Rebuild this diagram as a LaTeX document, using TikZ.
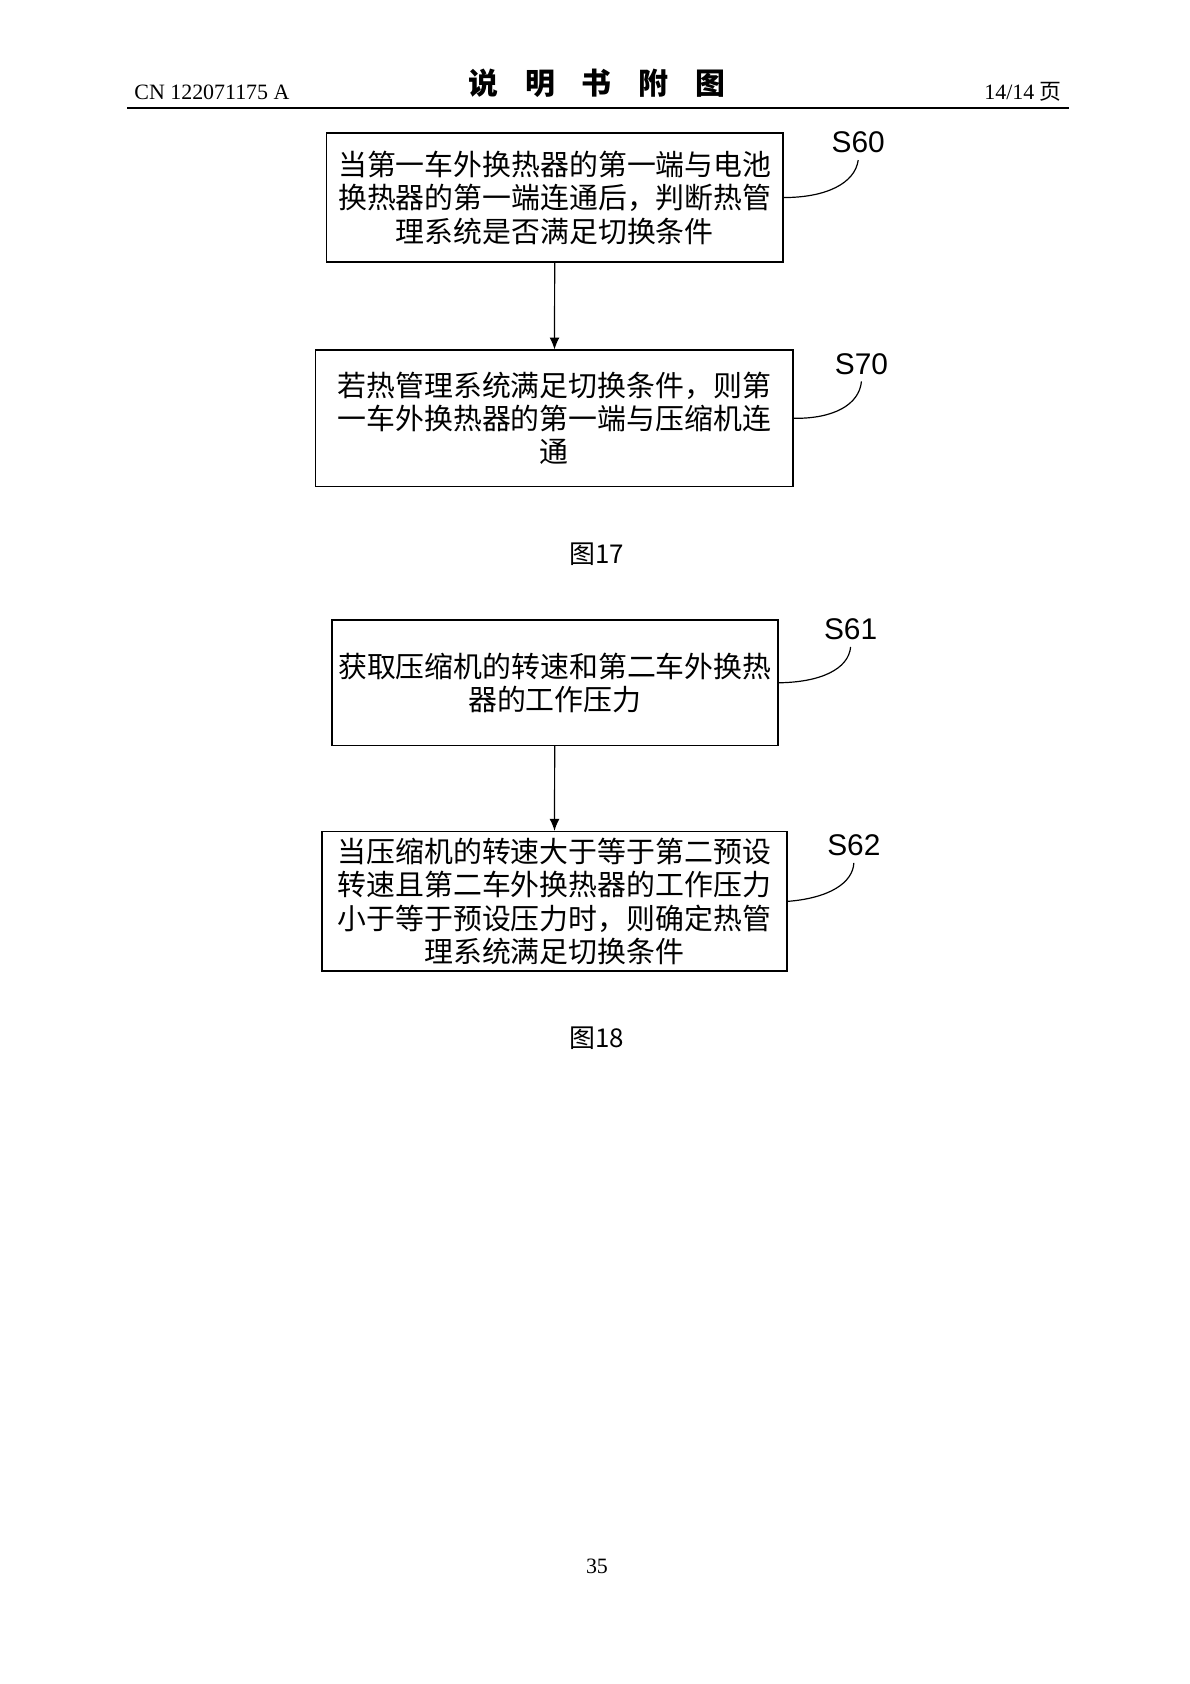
\documentclass[tikz,border=0pt]{standalone}
\usepackage{fontspec}
\setmainfont{Liberation Serif}
\newfontfamily\cjk{Noto Sans CJK SC}
\newfontfamily\lab{Liberation Sans}
\usetikzlibrary{positioning,arrows.meta}
\tikzset{
  stepbox/.style={draw,thick,align=center,inner sep=2pt,font=\cjk\fontsize{14.5}{16.8}\selectfont},
  tag/.style={font=\lab\fontsize{15}{15}\selectfont},
  flow/.style={-{Latex[length=6pt,width=5pt]},semithick},
  hook/.style={semithick}
}
\begin{document}
\begin{tikzpicture}[x=0.01905cm,y=-0.01905cm]
\useasboundingbox (0,0) rectangle (1102,1560);
% header
\node[anchor=base west,font=\fontsize{11}{11}\selectfont] (cn) at (118,92) {CN 122071175 A};
\node[anchor=base,font=\cjk\bfseries\fontsize{15}{15}\selectfont] (title) at (553,88) {说\hspace{0.9em}明\hspace{0.9em}书\hspace{0.9em}附\hspace{0.9em}图};
\node[anchor=base east,font=\fontsize{11}{11}\selectfont] (pg) at (990,92) {14/14 {\cjk 页}};
\coordinate (hl) at (118,100);
\coordinate (hr) at (990,100);
\draw[line width=1.2pt] (hl) -- (hr);
% figure 17
\node[stepbox,minimum width=8.05cm,minimum height=2.27cm] (B60) at (514,183) {当第一车外换热器的第一端与电池\\换热器的第一端连通后，判断热管\\理系统是否满足切换条件};
\node[stepbox,minimum width=8.42cm,minimum height=2.4cm] (B70) at (513.5,387.5) {若热管理系统满足切换条件，则第\\一车外换热器的第一端与压缩机连\\通};
\draw[flow] (B60) -- (B70);
\node[tag] (T60) at (795,132) {S60};
\node[tag] (T70) at (798,337) {S70};
\draw[hook] (B60.east) .. controls (765,183) and (792,170) .. (T60.south);
\draw[hook] (B70.east) .. controls (772,388) and (796,375) .. (T70.south);
\node[font=\cjk\fontsize{13}{13}\selectfont] (F17) at (553,513) {图17};
% figure 18
\node[stepbox,minimum width=7.87cm,minimum height=2.21cm] (B61) at (514,632.5) {获取压缩机的转速和第二车外换热\\器的工作压力};
\node[stepbox,minimum width=8.2cm,minimum height=2.46cm] (B62) at (513.5,835) {当压缩机的转速大于等于第二预设\\转速且第二车外换热器的工作压力\\小于等于预设压力时，则确定热管\\理系统满足切换条件};
\draw[flow] (B61) -- (B62);
\node[tag] (T61) at (788,583) {S61};
\node[tag] (T62) at (791,783) {S62};
\draw[hook] (B61.east) .. controls (760,632) and (786,620) .. (T61.south);
\draw[hook] (B62.east) .. controls (768,832) and (790,818) .. (T62.south);
\node[font=\cjk\fontsize{13}{13}\selectfont] (F18) at (553,962) {图18};
% footer
\node[font=\fontsize{11}{11}\selectfont] (num) at (553,1451) {35};
\end{tikzpicture}
\end{document}
